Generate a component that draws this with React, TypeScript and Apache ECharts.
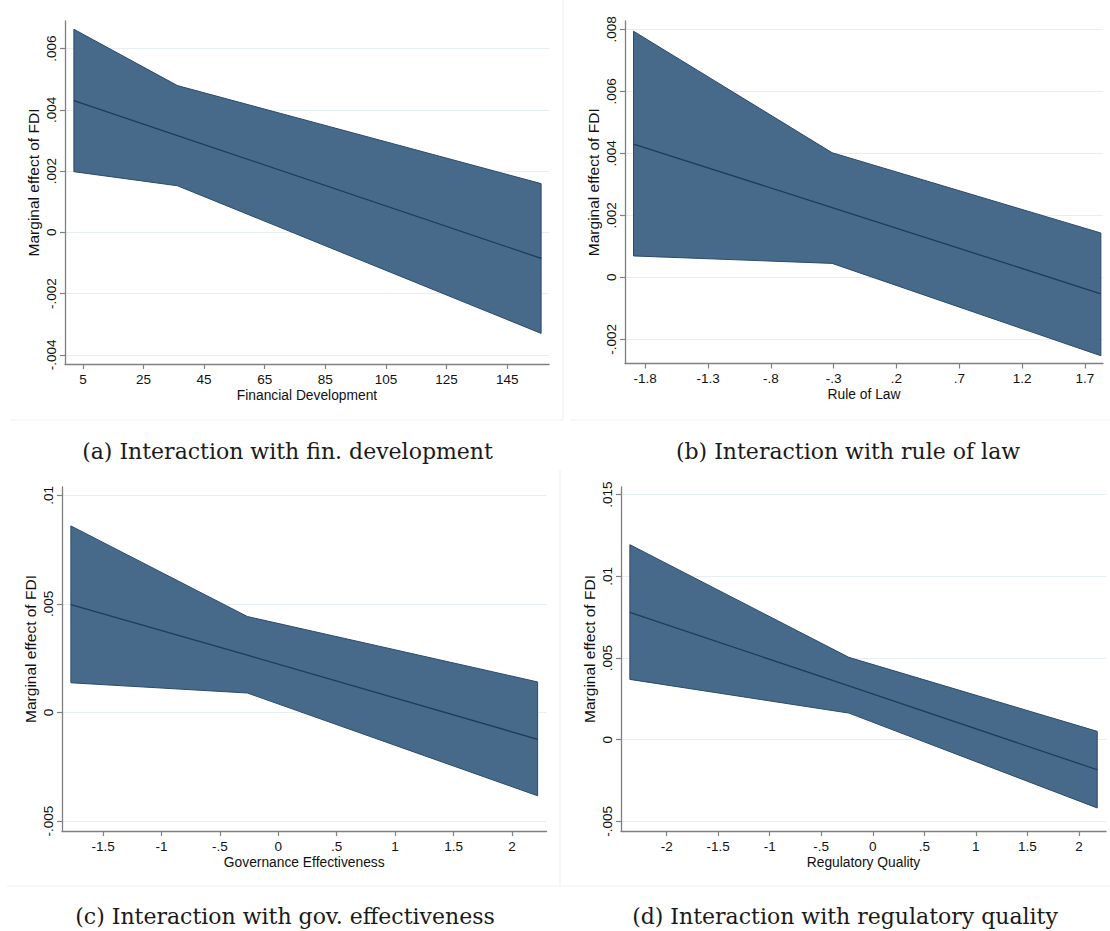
import React, { useEffect, useRef } from "react";
import * as echarts from "echarts";

// Panel (a): Financial Development
const xA = [2.03, 36.2, 156.2];
const upperA = [0.00663, 0.00479, 0.00159];
const lowerA = [0.00198, 0.00152, -0.0033];
const midA = [0.0043, 0.00316, -0.00085];
const xTicksA = [5, 25, 45, 65, 85, 105, 125, 145];
const yTicksA = [-0.004, -0.002, 0, 0.002, 0.004, 0.006];

// Panel (b): Rule of Law
const xB = [-1.893, -0.312, 1.827];
const upperB = [0.00794, 0.00402, 0.00143];
const lowerB = [0.00069, 0.00045, -0.00253];
const midB = [0.0043, 0.00225, -0.00053];
const xTicksB = [-1.8, -1.3, -0.8, -0.3, 0.2, 0.7, 1.2, 1.7];
const yTicksB = [-0.002, 0, 0.002, 0.004, 0.006, 0.008];

// Panel (c): Governance Effectiveness
const xC = [-1.776, -0.265, 2.22];
const upperC = [0.00859, 0.00442, 0.00141];
const lowerC = [0.00137, 0.0009, -0.00383];
const midC = [0.00497, 0.00264, -0.00123];
const xTicksC = [-1.5, -1, -0.5, 0, 0.5, 1, 1.5, 2];
const yTicksC = [-0.005, 0, 0.005, 0.01];

// Panel (d): Regulatory Quality
const xD = [-2.357, -0.232, 2.178];
const upperD = [0.01194, 0.00504, 0.00051];
const lowerD = [0.00369, 0.00163, -0.00418];
const midD = [0.0078, 0.00329, -0.00184];
const xTicksD = [-2, -1.5, -1, -0.5, 0, 0.5, 1, 1.5, 2];
const yTicksD = [-0.005, 0, 0.005, 0.01, 0.015];

const xTitles = ["Financial Development", "Rule of Law", "Governance Effectiveness", "Regulatory Quality"];
const yTitle = "Marginal effect of FDI";
const captions = [
  "(a) Interaction with fin. development",
  "(b) Interaction with rule of law",
  "(c) Interaction with gov. effectiveness",
  "(d) Interaction with regulatory quality",
];

const SANS = "'Liberation Sans', Arial, Helvetica, sans-serif";
const SERIF = "'DejaVu Serif', 'Liberation Serif', serif";
const AXIS_COLOR = "#808080";
const FILL = "#476a8a";
const EDGE = "#2b4a6b";
const MID = "#1f3b5a";

const fmt = (v: number) => {
  const s = String(parseFloat(v.toFixed(6)));
  return s.replace(/^(-?)0\./, "$1.");
};

const panels = [
  { xs: xA, up: upperA, lo: lowerA, mid: midA, xt: xTicksA, yt: yTicksA, xr: [-0.9, 158.8], yr: [-0.0043, 0.0069], grid: { left: 65, top: 21, width: 484, height: 343 } },
  { xs: xB, up: upperB, lo: lowerB, mid: midB, xt: xTicksB, yt: yTicksB, xr: [-1.961, 1.844], yr: [-0.00278, 0.00827], grid: { left: 625, top: 21, width: 478, height: 342.5 } },
  { xs: xC, up: upperC, lo: lowerC, mid: midC, xt: xTicksC, yt: yTicksC, xr: [-1.852, 2.296], yr: [-0.00545, 0.01038], grid: { left: 62, top: 487, width: 484.5, height: 344 } },
  { xs: xD, up: upperD, lo: lowerD, mid: midD, xt: xTicksD, yt: yTicksD, xr: [-2.443, 2.263], yr: [-0.00559, 0.01547], grid: { left: 621, top: 487, width: 485, height: 344 } },
];

const captionPos = [
  [287.5, 451.7],
  [848, 451.7],
  [285, 916.7],
  [845, 916.7],
];

export default function App() {
  const ref = useRef<HTMLDivElement>(null);
  useEffect(() => {
    if (!ref.current) return;
    const chart = echarts.init(ref.current, undefined, { renderer: "svg" });

    const grids = panels.map((p) => ({ ...p.grid, containLabel: false }));
    const xAxes = panels.map((p, i) => ({
      type: "value",
      gridIndex: i,
      min: p.xr[0],
      max: p.xr[1],
      name: xTitles[i],
      nameLocation: "middle",
      nameGap: 24,
      nameTextStyle: { fontSize: 13.8, color: "#111", fontFamily: SANS },
      axisLine: { show: true, onZero: false, lineStyle: { color: AXIS_COLOR, width: 1.3 } },
      axisTick: { show: true, length: 5, customValues: p.xt, lineStyle: { color: AXIS_COLOR, width: 1.2 } },
      axisLabel: { customValues: p.xt, formatter: fmt, fontSize: 13.5, color: "#111", margin: 8, fontFamily: SANS },
      splitLine: { show: false },
    }));
    const yAxes = panels.map((p, i) => ({
      type: "value",
      gridIndex: i,
      min: p.yr[0],
      max: p.yr[1],
      name: yTitle,
      nameLocation: "middle",
      nameGap: 24,
      nameRotate: 90,
      nameTextStyle: { fontSize: 15.5, color: "#111", fontFamily: SANS, padding: [0, 0, 0, 20] },
      axisLine: { show: true, onZero: false, lineStyle: { color: AXIS_COLOR, width: 1.3 } },
      axisTick: { show: true, length: 5, customValues: p.yt, lineStyle: { color: AXIS_COLOR, width: 1.2 } },
      axisLabel: { customValues: p.yt, formatter: fmt, rotate: 90, fontSize: 13.5, color: "#111", margin: 7, fontFamily: SANS },
      splitLine: { show: true, lineStyle: { color: "#e6eef1", width: 1 } },
    }));

    const series: any[] = [];
    panels.forEach((p, i) => {
      series.push({
        type: "custom",
        xAxisIndex: i,
        yAxisIndex: i,
        silent: true,
        z: 2,
        data: p.xs.map((x, k) => [x, p.lo[k], p.up[k]]),
        encode: { x: 0, y: [1, 2] },
        renderItem: (params: any, api: any) => {
          if (params.dataIndex !== 0) return null;
          const pts: number[][] = [];
          p.xs.forEach((x, k) => pts.push(api.coord([x, p.up[k]])));
          for (let k = p.xs.length - 1; k >= 0; k--) pts.push(api.coord([p.xs[k], p.lo[k]]));
          return {
            type: "polygon",
            shape: { points: pts },
            style: { fill: FILL, stroke: EDGE, lineWidth: 1 },
          };
        },
      });
      series.push({
        type: "line",
        xAxisIndex: i,
        yAxisIndex: i,
        silent: true,
        z: 3,
        symbol: "none",
        data: p.xs.map((x, k) => [x, p.mid[k]]),
        lineStyle: { color: MID, width: 1.3 },
      });
    });

    const frameColor = "#eceff2";
    const graphic: any[] = [
      { type: "line", shape: { x1: 10, y1: 420, x2: 563, y2: 420 }, style: { stroke: frameColor, lineWidth: 1 } },
      { type: "line", shape: { x1: 570, y1: 420, x2: 1110, y2: 420 }, style: { stroke: frameColor, lineWidth: 1 } },
      { type: "line", shape: { x1: 563, y1: 0, x2: 563, y2: 420 }, style: { stroke: frameColor, lineWidth: 1 } },
      { type: "line", shape: { x1: 7, y1: 886, x2: 560, y2: 886 }, style: { stroke: frameColor, lineWidth: 1 } },
      { type: "line", shape: { x1: 560, y1: 886, x2: 1110, y2: 886 }, style: { stroke: frameColor, lineWidth: 1 } },
      { type: "line", shape: { x1: 560, y1: 470, x2: 560, y2: 886 }, style: { stroke: frameColor, lineWidth: 1 } },
    ];
    captions.forEach((c, i) => {
      graphic.push({
        type: "text",
        x: captionPos[i][0],
        y: captionPos[i][1],
        style: {
          text: c,
          fill: "#1a1a1a",
          font: `22px ${SERIF}`,
          textAlign: "center",
          textVerticalAlign: "middle",
        },
      });
    });

    chart.setOption({
      animation: false,
      backgroundColor: "#ffffff",
      grid: grids,
      xAxis: xAxes,
      yAxis: yAxes,
      series,
      graphic,
    } as any);

    return () => chart.dispose();
  }, []);

  return <div ref={ref} style={{ position: "fixed", left: 0, top: 0, width: 1110, height: 931 }} />;
}
